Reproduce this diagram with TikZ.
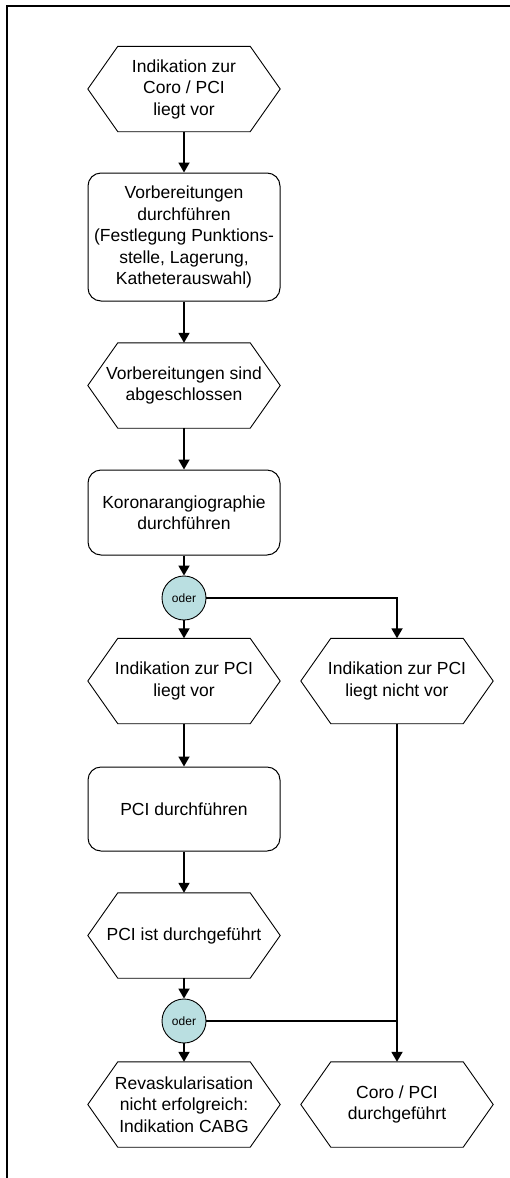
\documentclass[tikz,border=0pt]{standalone}
\usepackage{fontspec}
\setmainfont{Liberation Sans}
\usetikzlibrary{arrows.meta,calc}
\definecolor{gatefill}{RGB}{186,223,225}
\begin{document}
\begin{tikzpicture}[x=1pt,y=-1pt,
  every node/.style={font=\fontsize{17.5}{21.5}\selectfont, align=center, inner sep=0pt},
  event/.style={minimum width=192pt, minimum height=85pt},
  task/.style={draw, line width=1pt, rounded corners=13pt, minimum width=192pt},
  gate/.style={circle, draw, line width=0.9pt, fill=gatefill, minimum size=44pt,
    font=\fontsize{12}{14}\selectfont},
  hexline/.style={draw, line width=0.9pt, line join=miter},
  conn/.style={line width=1.8pt, -{Triangle[length=10pt,width=11pt]}},
  flow/.style={line width=1.8pt}]
\useasboundingbox (0,0) rectangle (510,1178);

% page frame (top and left rule)
\draw[line width=2pt] (6.5,1178) -- (6.5,5.5) -- (510,5.5);

% left column
\node[event] (n1) at (184,89) {Indikation zur\\Coro / PCI\\liegt vor};
\node[task, minimum height=128pt] (n2) at (184,237) {Vorbereitungen\\durchführen\\(Festlegung Punktions-\\stelle, Lagerung,\\Katheterauswahl)};
\node[event] (n3) at (184,385.5) {Vorbereitungen sind\\abgeschlossen};
\node[task, minimum height=85pt] (n4) at (184,512.5) {Koronarangiographie\\durchführen};
\node[gate] (o1) at (184,598) {oder};
\node[event] (n5) at (184,681) {Indikation zur PCI\\liegt vor};
\node[task, minimum height=84pt] (n7) at (184,809) {PCI durchführen};
\node[event] (n8) at (184,935.5) {PCI ist durchgeführt};
\node[gate] (o2) at (184,1021) {oder};
\node[event] (n9) at (184,1104.5) {Revaskularisation\\nicht erfolgreich:\\Indikation CABG};

% right column
\node[event] (n6) at (397,681) {Indikation zur PCI\\liegt nicht vor};
\node[event] (n10) at (397,1104.5) {Coro / PCI\\durchgeführt};

% hexagon outlines for the event nodes
\foreach \n in {n1,n3,n5,n6,n8,n9,n10}
  \path[hexline] ($(\n.north west)+(30,0)$) -- ($(\n.north east)+(-30,0)$) -- (\n.east)
    -- ($(\n.south east)+(-30,0)$) -- ($(\n.south west)+(30,0)$) -- (\n.west) -- cycle;

% connectors
\draw[conn] (n1) -- (n2);
\draw[conn] (n2) -- (n3);
\draw[conn] (n3) -- (n4);
\draw[conn] (n4) -- (o1);
\draw[conn] (o1) -- (n5);
\draw[conn] (o1.east) -| (n6.north);
\draw[conn] (n5) -- (n7);
\draw[conn] (n7) -- (n8);
\draw[conn] (n8) -- (o2);
\draw[conn] (o2) -- (n9);
\draw[conn] (n6) -- (n10);
\draw[flow] (o2.east) -- (o2 -| n6);
\end{tikzpicture}
\end{document}
